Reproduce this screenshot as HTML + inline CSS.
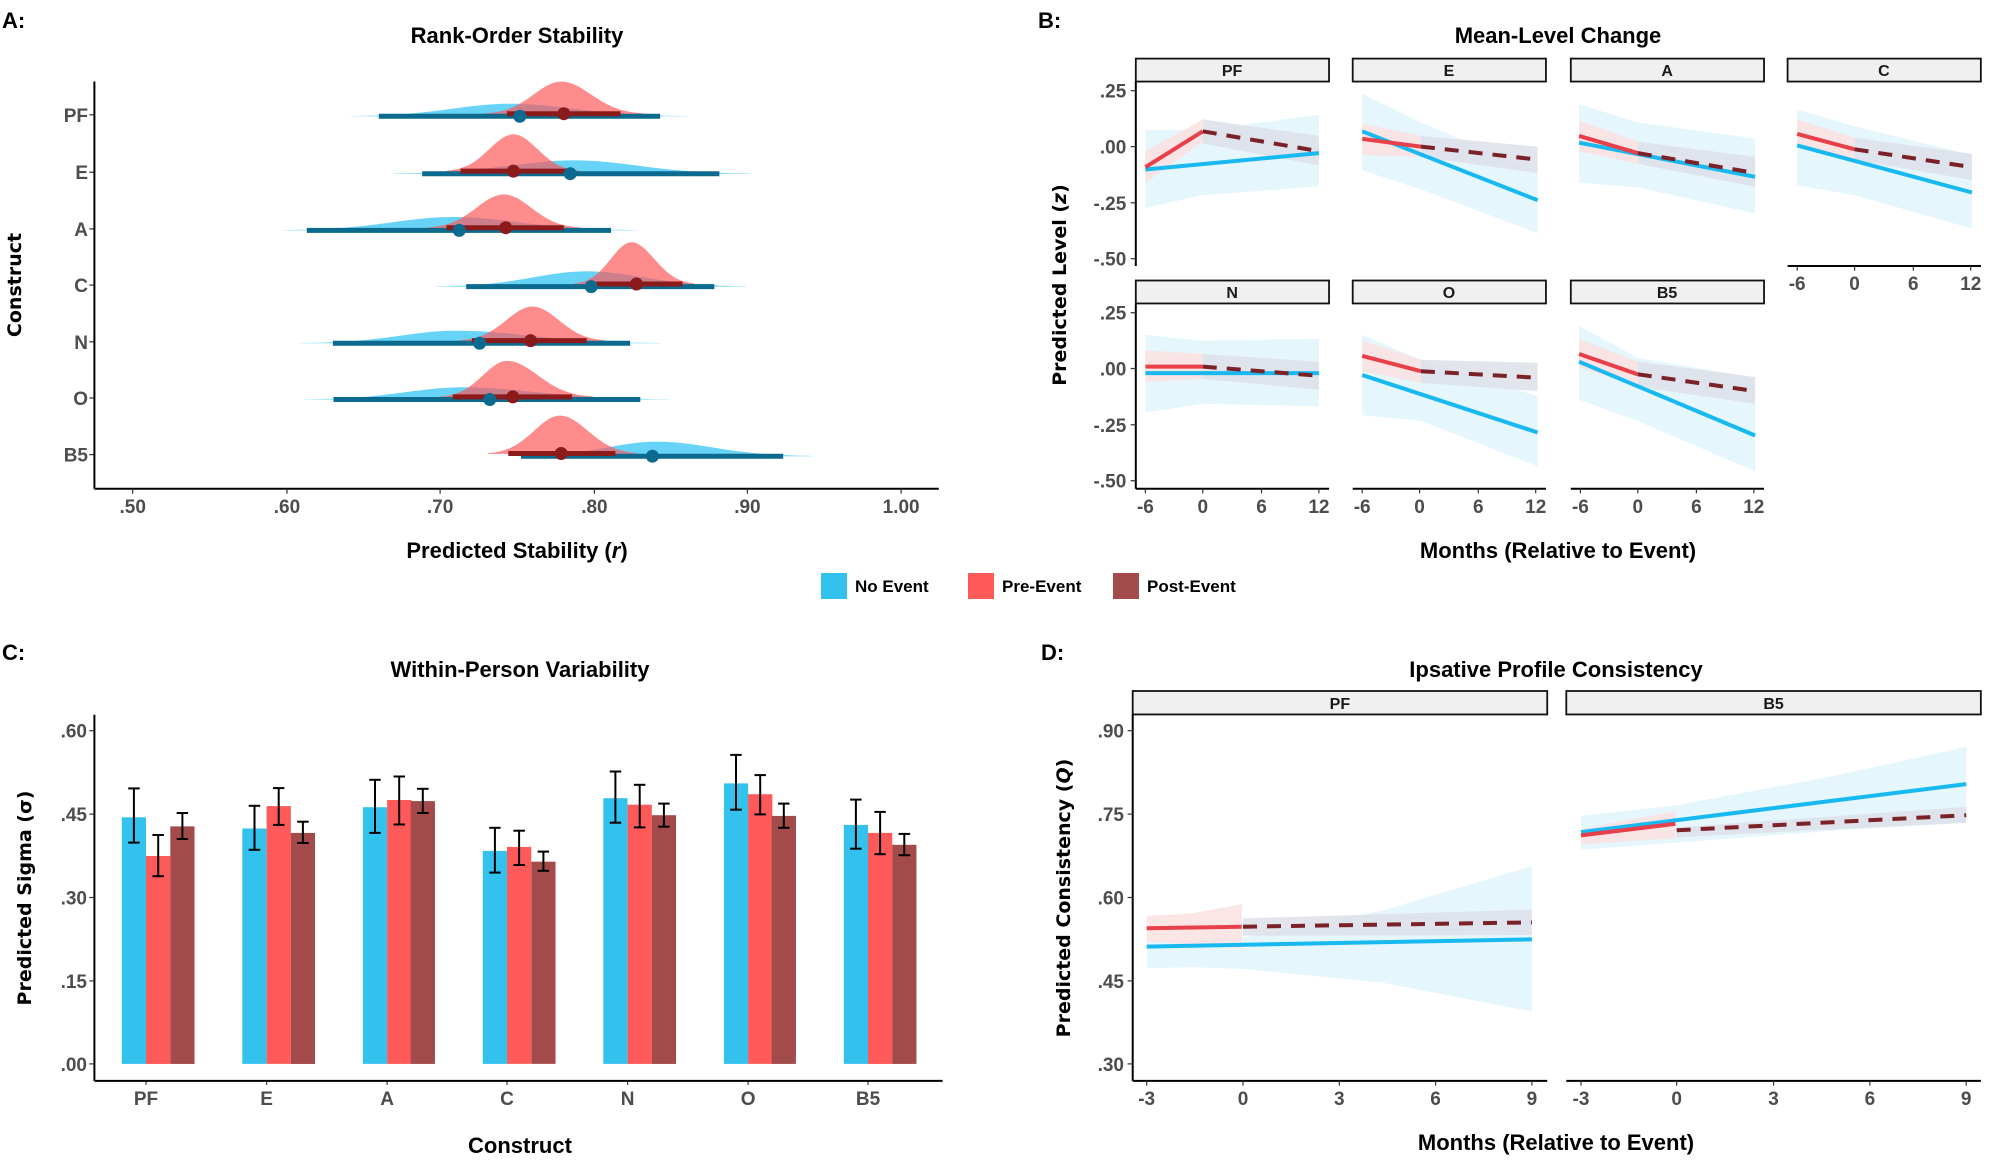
<!DOCTYPE html>
<html><head><meta charset="utf-8"><style>
html,body{margin:0;padding:0;background:#fff;}
svg{display:block;}
text{font-family:"Liberation Sans Narrow","Liberation Sans",sans-serif;}
.tk{fill:#4d4d4d;font-weight:bold;font-size:19px;}
.tt{fill:#000;font-weight:bold;font-size:22px;}
.lb{fill:#000;font-weight:bold;font-size:22px;}
.yl{font-family:"DejaVu Sans",sans-serif;font-weight:bold;font-size:19px;fill:#000;}
.st{fill:#1a1a1a;font-weight:bold;font-size:16px;}
.lg{fill:#000;font-weight:bold;font-size:17px;}
</style></head><body>
<svg id="s" width="2000" height="1166" viewBox="0 0 2000 1166" xmlns="http://www.w3.org/2000/svg"></svg>
<script>
var out=[];
var z1={ox:0,oy:0,sx:1/1.568,sy:1/2.613},z2={ox:1000,oy:0,sx:1/1.568,sy:1/2.613},
z3={ox:0,oy:600,sx:1/1.568,sy:1/2.77},z4={ox:1000,oy:600,sx:1/1.568,sy:1/2.77};
function X(z,x){return (z.ox+x*z.sx).toFixed(1)}
function Y(z,y){return (z.oy+y*z.sy).toFixed(1)}
function poly(z,pts,fill,op){out.push('<polygon points="'+pts.map(function(p){return X(z,p[0])+','+Y(z,p[1])}).join(' ')+'" fill="'+fill+'"'+(op!=null?' fill-opacity="'+op+'"':'')+'/>')}
function ln(z,x1,y1,x2,y2,c,w,d){out.push('<line x1="'+X(z,x1)+'" y1="'+Y(z,y1)+'" x2="'+X(z,x2)+'" y2="'+Y(z,y2)+'" stroke="'+c+'" stroke-width="'+w+'"'+(d?' stroke-dasharray="'+d+'"':'')+'/>')}
function rect(z,x1,y1,x2,y2,fill,stroke,sw){out.push('<rect x="'+X(z,x1)+'" y="'+Y(z,y1)+'" width="'+(x2-x1)*z.sx+'" height="'+(y2-y1)*z.sy+'" fill="'+fill+'"'+(stroke?' stroke="'+stroke+'" stroke-width="'+sw+'"':'')+'/>')}
function circ(z,x,y,r,c){out.push('<circle cx="'+X(z,x)+'" cy="'+Y(z,y)+'" r="'+r+'" fill="'+c+'"/>')}
function tx(x,y,s,cls,anc,extra){out.push('<text x="'+x+'" y="'+y+'" class="'+cls+'" text-anchor="'+(anc||'start')+'"'+(extra||'')+'>'+s+'</text>')}

/* ---------- Panel A ---------- */
function dens(base,a,p,c,h,col,op){var pts=[],sl=(p-a)/2.8,sr=(c-p)/2.8;for(var x=a;x<=c;x+=4){var s=x<p?sl:sr;pts.push([x,base-h*Math.exp(-0.5*Math.pow((x-p)/s,2))]);}pts.push([c,base]);pts.push([a,base]);poly(z1,pts,col,op);}
var A=[["PF",300,[548,800,1080,33],[760,880,1010,85],[594,1035,815],[795,973,884]],
["E",450,[617,900,1178,35],[700,805,910,97],[662,1128,894],[722,890,805]],
["A",598,[445,710,1000,35],[670,790,910,88],[481,958,720],[700,884,793]],
["C",745,[685,920,1170,40],[900,990,1090,110],[731,1120,927],[935,1070,998]],
["N",893,[473,715,1035,33],[720,835,950,90],[522,988,752],[740,920,832]],
["O",1040,[478,725,1050,32],[690,795,930,95],[523,1004,768],[710,897,804]],
["B5",1188,[815,1030,1272,38],[765,878,1000,100],[817,1228,1023],[797,965,880]]];
A.forEach(function(r){var b=r[1];dens(b+4,r[2][0],r[2][1],r[2][2],r[2][3],"#3cc8f5",0.78);dens(b-2,r[3][0],r[3][1],r[3][2],r[3][3],"#ff5555",0.68);});
A.forEach(function(r){var b=r[1];ln(z1,r[4][0],b+4,r[4][1],b+4,"#0b6a8e",5);ln(z1,r[5][0],b-3,r[5][1],b-3,"#8b1a1a",5);circ(z1,r[4][2],b+4,6.5,"#0b6a8e");circ(z1,r[5][2],b-3,6.5,"#8b1a1a");
 ln(z1,140,b,148,b,"#333",1.2);tx(88,(b/2.613+7).toFixed(1),r[0],"tk","end");});
ln(z1,148,213,148,1277,"#000",2);ln(z1,148,1277,1472,1277,"#000",2);
[[208,".50"],[450,".60"],[690,".70"],[932,".80"],[1172,".90"],[1413,"1.00"]].forEach(function(t){ln(z1,t[0],1277,t[0],1290,"#333",1.2);tx(X(z1,t[0]),513,t[1],"tk","middle");});
tx(2,28,"A:","lb");tx(517,43,"Rank-Order Stability","tt","middle");
tx(517,558,'Predicted Stability  (<tspan font-style="italic">r</tspan>)',"tt","middle");
out.push('<text class="yl" text-anchor="middle" transform="translate(21,285) rotate(-90)">Construct</text>');

/* legend */
out.push('<rect x="821" y="573" width="26" height="26" fill="#33c1ee"/>');tx(855,592,"No Event","lg");
out.push('<rect x="968" y="573" width="26" height="26" fill="#ff5a5a"/>');tx(1002,592,"Pre-Event","lg");
out.push('<rect x="1113" y="573" width="26" height="26" fill="#a34a4a"/>');tx(1147,592,"Post-Event","lg");

/* ---------- Panel B ---------- */
var BL="#18b8f0",RD="#e8404a",DK="#7b2229",BR="#e2f5fd",RR="#fbe1e1",PR="#dcdfe7";
function facet(dx,dy,d){
 function P(a){return a.map(function(p){return [p[0]+dx,p[1]+dy]})}
 poly(z2,P(d.br),BR,0.9);poly(z2,P(d.rr),RR,0.85);poly(z2,P(d.pr),PR,0.8);
 ln(z2,d.bl[0]+dx,d.bl[1]+dy,d.bl[2]+dx,d.bl[3]+dy,BL,4);
 ln(z2,d.rl[0]+dx,d.rl[1]+dy,d.rl[2]+dx,d.rl[3]+dy,RD,4);
 ln(z2,d.dl[0]+dx,d.dl[1]+dy,d.dl[2]+dx,d.dl[3]+dy,DK,4,"14,10");
}
var F={
PF:{br:[[228,340],[318,340],[500,300],[500,487],[318,510],[228,543]],rr:[[228,395],[318,312],[318,370],[228,478]],pr:[[318,312],[500,355],[500,432],[318,375]],bl:[228,443,500,400],rl:[228,437,318,343],dl:[318,343,500,395]},
E:{br:[[568,245],[660,320],[843,450],[843,610],[660,495],[568,445]],rr:[[568,323],[660,355],[660,410],[568,405]],pr:[[660,355],[843,383],[843,452],[660,410]],bl:[568,343,843,523],rl:[568,363,660,383],dl:[660,383,843,417]},
A:{br:[[908,272],[1000,320],[1184,362],[1184,558],[1000,490],[908,477]],rr:[[908,315],[1000,370],[1000,428],[908,395]],pr:[[1000,370],[1184,410],[1184,488],[1000,428]],bl:[908,373,1184,462],rl:[908,355,1000,400],dl:[1000,400,1184,452]},
C:{br:[[1250,287],[1340,330],[1524,405],[1524,597],[1340,510],[1250,484]],rr:[[1250,312],[1340,360],[1340,420],[1250,380]],pr:[[1340,360],[1524,402],[1524,470],[1340,418]],bl:[1250,380,1524,503],rl:[1250,350,1340,390],dl:[1340,390,1524,437]},
N:{br:[[228,875],[318,890],[500,885],[500,1062],[318,1055],[228,1078]],rr:[[228,915],[318,925],[318,990],[228,998]],pr:[[318,925],[500,945],[500,1018],[318,990]],bl:[228,975,500,975],rl:[228,958,318,958],dl:[318,958,500,982]},
O:{br:[[568,875],[660,940],[843,1035],[843,1218],[660,1100],[568,1085]],rr:[[568,890],[660,940],[660,1000],[568,970]],pr:[[660,940],[843,948],[843,1022],[660,1000]],bl:[568,980,843,1130],rl:[568,930,660,970],dl:[660,970,843,987]},
B5:{br:[[908,852],[1000,935],[1184,987],[1184,1232],[1000,1100],[908,1045]],rr:[[908,885],[1000,945],[1000,1010],[908,960]],pr:[[1000,945],[1184,985],[1184,1055],[1000,1010]],bl:[908,945,1184,1138],rl:[908,925,1000,978],dl:[1000,978,1184,1022]}};
for(var k in F) facet(0,0,F[k]);
var strips=[["PF",213,153],["E",553,153],["A",895,153],["C",1235,153],["N",213,733],["O",553,733],["B5",895,733]];
strips.forEach(function(s){rect(z2,s[1],s[2],s[1]+303,s[2]+60,"#f0f0f0","#111",1.8);tx(X(z2,s[1]+151),(+Y(z2,s[2]+30)+6).toFixed(1),s[0],"st","middle");});
ln(z2,213,213,213,695,"#000",2);ln(z2,213,795,213,1277,"#000",2);
[[237,".25"],[383,".00"],[530,"-.25"],[676,"-.50"]].forEach(function(t){ln(z2,205,t[0],213,t[0],"#333",1.2);tx(X(z2,198),(+Y(z2,t[0])+7).toFixed(1),t[1],"tk","end");ln(z2,205,t[0]+580,213,t[0]+580,"#333",1.2);tx(X(z2,198),(+Y(z2,t[0]+580)+7).toFixed(1),t[1],"tk","end");});
function xax(x0,yy,lblY){ln(z2,x0,yy,x0+303,yy,"#000",2);[["-6",15],["0",105],["6",197],["12",287]].forEach(function(t){ln(z2,x0+t[1],yy,x0+t[1],yy+12,"#333",1.2);tx(X(z2,x0+t[1]),lblY,t[0],"tk","middle");});}
xax(213,1277,513);xax(553,1277,513);xax(895,1277,513);xax(1235,695,290);
tx(1038,28,"B:","lb");tx(1558,43,"Mean-Level Change","tt","middle");
tx(1558,558,"Months (Relative to Event)","tt","middle");
out.push('<text class="yl" text-anchor="middle" transform="translate(1066,285) rotate(-90)">Predicted Level  (<tspan font-style="italic">z</tspan>)</text>');

/* ---------- Panel C ---------- */
var CB=[["PF",[191,602,522,672],[229,709,651,765],[267,627,590,662]],
["E",[380,633,570,692],[418,571,521,623],[456,645,614,673]],
["A",[569,574,498,645],[607,554,489,622],[644,557,523,590]],
["C",[757,695,631,755],[795,684,639,734],[833,725,697,750]],
["N",[946,549,475,617],[984,567,512,630],[1022,596,564,628]],
["O",[1135,508,429,581],[1173,538,485,594],[1210,598,564,631]],
["B5",[1323,623,553,689],[1361,645,587,704],[1399,678,648,707]]];
var cols=["#33c1ee","#ff5a5a","#a34a4a"];
CB.forEach(function(g){for(var i=0;i<3;i++){var b=g[i+1];rect(z3,b[0],b[1],b[0]+38,1285,cols[i]);}
 for(var i=0;i<3;i++){var b=g[i+1],cx=b[0]+19;ln(z3,cx,b[2],cx,b[3],"#000",2);ln(z3,cx-9,b[2],cx+9,b[2],"#000",2);ln(z3,cx-9,b[3],cx+9,b[3],"#000",2);}
 var c=g[2][0];ln(z3,c,1330,c,1343,"#333",1.2);tx(X(z3,c),1105,g[0],"tk","middle");});
ln(z3,148,318,148,1332,"#000",2);ln(z3,148,1332,1478,1332,"#000",2);
[[362,".60"],[593,".45"],[824,".30"],[1055,".15"],[1285,".00"]].forEach(function(t){ln(z3,140,t[0],148,t[0],"#333",1.2);tx(87,(+Y(z3,t[0])+7).toFixed(1),t[1],"tk","end");});
tx(2,660,"C:","lb");tx(520,677,"Within-Person Variability","tt","middle");
tx(520,1153,"Construct","tt","middle");
out.push('<text class="yl" text-anchor="middle" transform="translate(31,898) rotate(-90)">Predicted Sigma  (σ)</text>');

/* ---------- Panel D ---------- */
poly(z4,[[230,945],[381,935],[600,860],[834,737],[834,1140],[600,1060],[381,1022],[300,1017],[230,1020]],BR,0.9);
poly(z4,[[230,875],[300,868],[379,843],[379,965],[230,945]],RR,0.85);
poly(z4,[[381,882],[834,858],[834,928],[381,930]],PR,0.8);
ln(z4,230,960,834,940,BL,4);ln(z4,230,909,379,905,RD,4);ln(z4,381,905,834,893,DK,4,"14,10");
poly(z4,[[911,598],[1061,568],[1300,490],[1515,407],[1515,617],[1300,640],[1061,672],[911,692]],BR,0.9);
poly(z4,[[911,635],[1059,585],[1059,660],[911,677]],RR,0.85);
poly(z4,[[1061,630],[1515,573],[1515,617],[1061,657]],PR,0.8);
ln(z4,911,643,1515,510,BL,4);ln(z4,911,652,1059,620,RD,4);ln(z4,1061,638,1515,596,DK,4,"14,10");
[["PF",208],["B5",888]].forEach(function(s){rect(z4,s[1],252,s[1]+650,317,"#f0f0f0","#111",1.8);tx(X(z4,s[1]+325),(+Y(z4,285)+6).toFixed(1),s[0],"st","middle");});
ln(z4,208,317,208,1332,"#000",2);
[[362,".90"],[593,".75"],[824,".60"],[1055,".45"],[1285,".30"]].forEach(function(t){ln(z4,200,t[0],208,t[0],"#333",1.2);tx(1124,(+Y(z4,t[0])+7).toFixed(1),t[1],"tk","end");});
ln(z4,208,1332,858,1332,"#000",2);ln(z4,888,1332,1538,1332,"#000",2);
[[230,381,532,683,834],[911,1061,1213,1364,1515]].forEach(function(xs){var l=["-3","0","3","6","9"];xs.forEach(function(x,i){ln(z4,x,1332,x,1345,"#333",1.2);tx(X(z4,x),1105,l[i],"tk","middle");});});
tx(1041,660,"D:","lb");tx(1556,677,"Ipsative Profile Consistency","tt","middle");
tx(1556,1150,"Months (Relative to Event)","tt","middle");
out.push('<text class="yl" text-anchor="middle" transform="translate(1070,898) rotate(-90)">Predicted Consistency  (<tspan font-style="italic">Q</tspan>)</text>');

document.getElementById("s").innerHTML=out.join("");
</script>
</body></html>
